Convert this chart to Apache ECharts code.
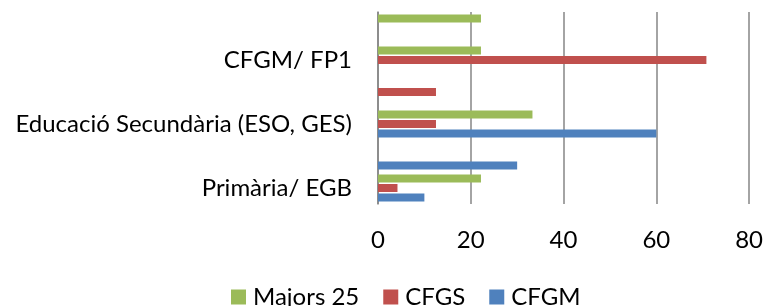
<!DOCTYPE html>
<html>
<head>
<meta charset="utf-8">
<script src="https://cdn.jsdelivr.net/npm/echarts@6/dist/echarts.min.js"></script>
<style>
  html, body { margin: 0; padding: 0; background: #fff; }
  #chart { width: 766px; height: 306px; }
</style>
</head>
<body>
<div id="chart"></div>
<script>
// nivells d'estudis (de baix a dalt); només es veuen els parells
var categories = ['Primària/ EGB', 'Graduat Escolar', 'Educació Secundària (ESO, GES)', 'Batxillerat/ BUP', 'CFGM/ FP1', 'CFGS/ FP2'];
var seriesNames = ['Majors 25', 'CFGS', 'CFGM'];
// percentatges llegits del gràfic
var majorsValues = [22.2, 0, 33.3, 0, 22.2, 22.2];
var cfgsValues = [4.2, 0, 12.5, 12.5, 70.8, 0];
var cfgmValues = [10, 30, 60, 0, 0, 0];
var colors = ['#9BBB59', '#C0504D', '#4F81BD'];
var xTicks = [0, 20, 40, 60, 80];

var chart = echarts.init(document.getElementById('chart'));
var font = 'Lato, "Open Sans", sans-serif';

var values = [majorsValues, cfgsValues, cfgmValues];
var series = seriesNames.map(function (name, i) {
  return {
    name: name,
    type: 'bar',
    barWidth: 8,
    barGap: '20%',
    itemStyle: { color: colors[i] },
    // buits = sense barra
    data: values[i].map(function (v) { return v === 0 ? null : v; })
  };
});

chart.setOption({
  animation: false,
  textStyle: { fontFamily: font },
  grid: { left: 378, right: 15, top: 12, bottom: 102 },
  legend: {
    data: seriesNames,
    top: 280,
    left: 226,
    icon: 'rect',
    itemWidth: 15,
    itemHeight: 15,
    itemGap: 24,
    textStyle: { fontFamily: font, fontSize: 24, color: '#000', padding: [0, 0, 0, 2] }
  },
  xAxis: {
    type: 'value',
    min: xTicks[0],
    max: xTicks[xTicks.length - 1],
    interval: 20,
    axisLine: { show: false },
    axisTick: { show: false },
    axisLabel: { fontFamily: font, fontSize: 24, color: '#000', margin: 24 },
    splitLine: { lineStyle: { color: '#868686', width: 1.5 } }
  },
  yAxis: {
    type: 'category',
    data: categories,
    axisLine: { show: true, lineStyle: { color: '#868686', width: 1.5 } },
    axisTick: { show: false },
    axisLabel: { interval: 1, fontFamily: font, fontSize: 24, color: '#000', margin: 26 }
  },
  series: series
});
</script>
</body>
</html>
